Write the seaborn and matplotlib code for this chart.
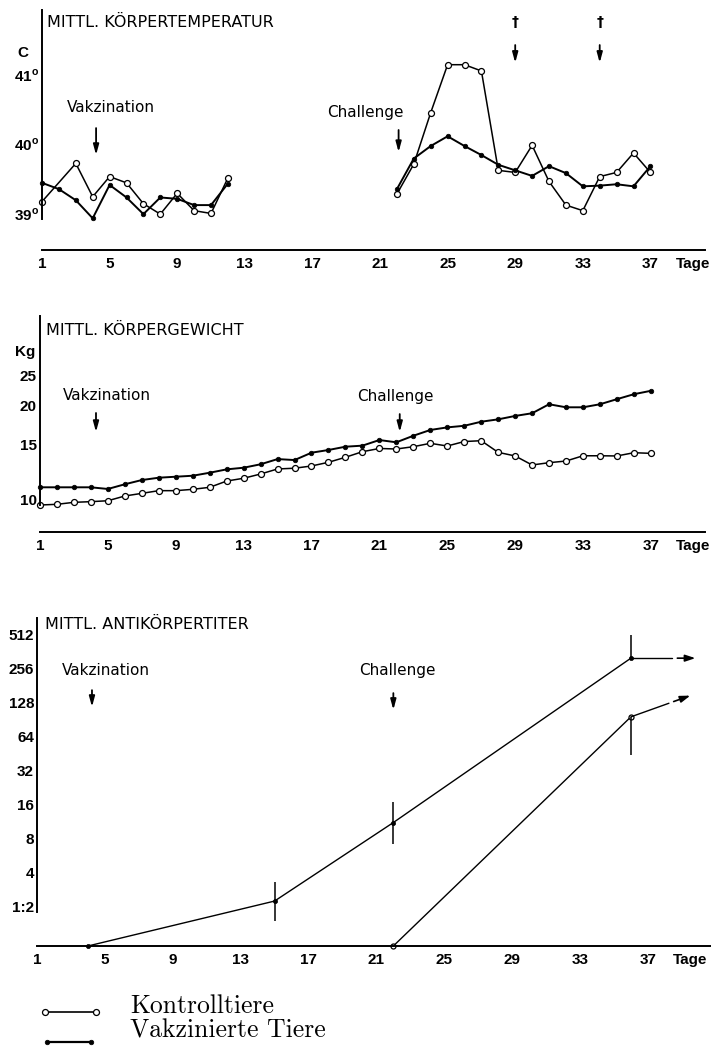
"""
Three stacked panels: mean body temperature, body weight and antibody
titre of control vs. vaccinated animals over the days of the trial.
"""

import matplotlib
matplotlib.use("Agg")
import matplotlib.pyplot as plt
import seaborn as sns
from matplotlib.lines import Line2D
from matplotlib.ticker import NullLocator
from matplotlib.transforms import ScaledTranslation

W, H = 711, 1046

# ---------------------------------------------------------------- data
DAY_TICKS = [1, 5, 9, 13, 17, 21, 25, 29, 33, 37]

# body temperature (°C) - vaccination phase
temp_ctrl_days_1 = [1, 3, 4, 5, 6, 7, 8, 9, 10, 11, 12]
temp_ctrl_1 = [39.25, 39.80, 39.32, 39.61, 39.52, 39.22, 39.07, 39.37, 39.12, 39.08, 39.59]
temp_vacc_days_1 = [1, 2, 3, 4, 5, 6, 7, 8, 9, 10, 11, 12]
temp_vacc_1 = [39.52, 39.43, 39.27, 39.01, 39.49, 39.31, 39.07, 39.31, 39.29, 39.20, 39.20, 39.51]

# body temperature (°C) - challenge phase
temp_days_2 = [22, 23, 24, 25, 26, 27, 28, 29, 30, 31, 32, 33, 34, 35, 36, 37]
temp_ctrl_2 = [39.36, 39.79, 40.53, 41.22, 41.22, 41.13, 39.70, 39.67,
               40.06, 39.54, 39.20, 39.12, 39.61, 39.67, 39.95, 39.67]
temp_vacc_2 = [39.43, 39.87, 40.05, 40.19, 40.05, 39.92, 39.78, 39.70,
               39.62, 39.76, 39.66, 39.47, 39.48, 39.50, 39.47, 39.76]
death_days = [29, 34]

# body weight (kg), days 1..37
weight_days = list(range(1, 38))
weight_ctrl = [10.0, 10.05, 10.2, 10.25, 10.32, 10.69, 10.9, 11.12, 11.12, 11.23,
               11.4, 11.94, 12.19, 12.58, 13.06, 13.13, 13.35, 13.72, 14.24, 14.84,
               15.2, 15.14, 15.40, 15.79, 15.48, 16.0, 16.1, 14.77, 14.38, 13.45,
               13.68, 13.85, 14.4, 14.4, 14.38, 14.73, 14.66]
weight_vacc = [11.40, 11.40, 11.40, 11.40, 11.26, 11.66, 12.03, 12.24, 12.33, 12.42,
               12.70, 13.02, 13.18, 13.52, 14.05, 13.95, 14.73, 15.03, 15.40, 15.52,
               16.18, 15.91, 16.70, 17.43, 17.77, 17.98, 18.53, 18.86, 19.34, 19.73,
               21.09, 20.62, 20.62, 21.09, 21.9, 22.72, 23.3]

# antibody titre (reciprocal), with range bars
titer_vacc_days = [4, 15, 22, 36]
titer_vacc = [1, 2.5, 12.4, 354]
titer_vacc_lo = [float("nan"), 1.67, 7.97, 354]
titer_vacc_hi = [float("nan"), 3.68, 18.7, 568]
titer_ctrl_days = [22, 36]
titer_ctrl = [1, 107]
titer_ctrl_lo = [float("nan"), 49.6]
titer_ctrl_hi = [float("nan"), 107]
# "still rising" arrows after the last measurement (day, titre)
titer_vacc_trend = (39.8, 354)
titer_ctrl_trend = (39.5, 165)

VACC_LABEL = "Vakzination"
CHALL_LABEL = "Challenge"

# ---------------------------------------------------------------- style
sns.set_style("white")
plt.rcParams["font.family"] = ["Liberation Sans", "DejaVu Sans"]
plt.rcParams["mathtext.fontset"] = "custom"
plt.rcParams["mathtext.rm"] = "Liberation Sans:bold"
plt.rcParams["text.color"] = "black"
plt.rcParams["xtick.color"] = "black"
plt.rcParams["ytick.color"] = "black"

CTRL_KW = dict(color="black", lw=1.1, marker="o", markersize=4.3,
               markerfacecolor="white", markeredgecolor="black",
               markeredgewidth=0.9, clip_on=False)
VACC_KW = dict(color="black", lw=1.4, marker="o", markersize=3.3,
               markerfacecolor="black", markeredgecolor="black",
               markeredgewidth=0.5, clip_on=False)
LABEL_FONT = dict(family="DejaVu Sans", fontsize=11, color="black")

fig = plt.figure(figsize=(W / 100, H / 100), dpi=100)


def add_axes_px(left, top, right, bottom):
    return fig.add_axes([left / W, 1 - bottom / H, (right - left) / W, (bottom - top) / H])


def style_axis(ax, xmax, ybottom, yticks, ylabels):
    sns.despine(ax=ax)
    for side in ("left", "bottom"):
        ax.spines[side].set_linewidth(1.4)
        ax.spines[side].set_color("black")
    ax.spines["left"].set_bounds(ybottom, ax.get_ylim()[1])
    ax.set_xlim(1, xmax)
    ax.set_xticks(DAY_TICKS, [str(d) for d in DAY_TICKS], fontweight="bold",
                  fontsize=11, color="black")
    ax.set_yticks(yticks)
    ax.yaxis.set_minor_locator(NullLocator())
    ax.tick_params(axis="x", direction="in", length=9, width=1.3, pad=5, colors="black")
    ax.tick_params(axis="y", direction="in", length=7, width=1.3, labelleft=False, colors="black")
    ax.set_xlabel("")
    ax.set_ylabel("")
    ytr = ax.get_yaxis_transform() + ScaledTranslation(-3 / 100, 4 / 100, fig.dpi_scale_trans)
    for v, lab in zip(yticks, ylabels):
        ax.text(0, v, lab, transform=ytr, ha="right", va="center",
                fontsize=11, fontweight="bold", color="black")
    xtr = ax.get_xaxis_transform() + ScaledTranslation(0, -5 / 72, fig.dpi_scale_trans)
    ax.text(39.5, 0, "Tage", transform=xtr, ha="center", va="top",
            fontsize=11, fontweight="bold", color="black")


def arrow(ax, x, y0, y1):
    tr = ax.get_xaxis_transform()
    ax.annotate("", xy=(x, y1), xycoords=tr, xytext=(x, y0), textcoords=tr,
                arrowprops=dict(arrowstyle="-|>,head_length=0.55,head_width=0.15",
                                color="black", lw=1.3, shrinkA=0, shrinkB=0,
                                mutation_scale=11))


def event(ax, label, text_day, text_y, arrow_day, y0, y1):
    ax.text(text_day, text_y, label, transform=ax.get_xaxis_transform(),
            ha="left", va="center", **LABEL_FONT)
    arrow(ax, arrow_day, y0, y1)


# ---------------------------------------------------------------- temperature
ax1 = add_axes_px(42, 10, 705, 250)
ax1.set_ylim(38.554, 42.007)
sns.lineplot(x=temp_ctrl_days_1, y=temp_ctrl_1, ax=ax1, sort=False, **CTRL_KW)
sns.lineplot(x=temp_vacc_days_1, y=temp_vacc_1, ax=ax1, sort=False, **VACC_KW)
sns.lineplot(x=temp_days_2, y=temp_ctrl_2, ax=ax1, sort=False, **CTRL_KW)
sns.lineplot(x=temp_days_2, y=temp_vacc_2, ax=ax1, sort=False, **VACC_KW)
style_axis(ax1, 40.23, 39, [39, 40, 41],
           [r"39$^{\mathrm{o}}$", r"40$^{\mathrm{o}}$", r"41$^{\mathrm{o}}$"])
ax1.text(1.3, 0.946, "MITTL. KÖRPERTEMPERATUR", transform=ax1.get_xaxis_transform(),
         ha="left", va="center", **{**LABEL_FONT, "fontsize": 11.5})
ax1.text(-0.029, 0.82, "C", transform=ax1.transAxes, ha="center", va="center",
         fontsize=11, fontweight="bold")
event(ax1, VACC_LABEL, 2.48, 0.592, 4.2, 0.508, 0.396)
event(ax1, CHALL_LABEL, 17.86, 0.575, 22.1, 0.50, 0.408)
for d in death_days:
    ax1.text(d, 0.95, "†", transform=ax1.get_xaxis_transform(), ha="center",
             va="center", fontsize=10, fontweight="bold", family="DejaVu Sans")
    arrow(ax1, d, 0.854, 0.78)

# ---------------------------------------------------------------- weight
ax2 = add_axes_px(40, 316, 705, 532)
ax2.set_yscale("log")
ax2.set_ylim(8.187, 40.55)
sns.lineplot(x=weight_days, y=weight_ctrl, ax=ax2, sort=False, **CTRL_KW)
sns.lineplot(x=weight_days, y=weight_vacc, ax=ax2, sort=False, **VACC_KW)
style_axis(ax2, 40.19, 10, [10, 15, 20, 25], ["10", "15", "20", "25"])
ax2.text(1.35, 0.935, "MITTL. KÖRPERGEWICHT", transform=ax2.get_xaxis_transform(),
         ha="left", va="center", **{**LABEL_FONT, "fontsize": 11.5})
ax2.text(-0.023, 0.833, "Kg", transform=ax2.transAxes, ha="center", va="center",
         fontsize=11, fontweight="bold")
event(ax2, VACC_LABEL, 2.36, 0.634, 4.3, 0.551, 0.463)
event(ax2, CHALL_LABEL, 19.7, 0.625, 22.2, 0.546, 0.463)

# ---------------------------------------------------------------- titre
ax3 = add_axes_px(37, 618, 711, 946)
ax3.set_yscale("log", base=2)
ax3.set_ylim(1.0, 803)
titer_ticks = [2, 4, 8, 16, 32, 64, 128, 256, 512]
titer_labels = ["1:2"] + [str(t) for t in titer_ticks[1:]]
sns.lineplot(x=titer_ctrl_days, y=titer_ctrl, ax=ax3, sort=False,
             **{**CTRL_KW, "lw": 1.0, "markersize": 3.6})
sns.lineplot(x=titer_vacc_days, y=titer_vacc, ax=ax3, sort=False,
             **{**VACC_KW, "lw": 1.0, "markersize": 3.0})
ax3.vlines(titer_vacc_days, titer_vacc_lo, titer_vacc_hi, color="black", lw=1.1)
ax3.vlines(titer_ctrl_days, titer_ctrl_lo, titer_ctrl_hi, color="black", lw=1.1)

for days, vals, trend in ((titer_vacc_days, titer_vacc, titer_vacc_trend),
                          (titer_ctrl_days, titer_ctrl, titer_ctrl_trend)):
    x0, y0 = days[-1], vals[-1]
    x1, y1 = trend

    def at(t):
        return x0 + (x1 - x0) * t, y0 * (y1 / y0) ** t

    xa, ya = at(0.64)
    ax3.plot([x0, xa], [y0, ya], color="black", lw=1.0)
    xb, yb = at(0.72)
    ax3.annotate("", xy=(x1, y1), xytext=(xb, yb),
                 arrowprops=dict(arrowstyle="-|>,head_length=0.6,head_width=0.2",
                                 color="black", lw=1.2, shrinkA=0, shrinkB=0,
                                 mutation_scale=10))

style_axis(ax3, 40.72, 2, titer_ticks, titer_labels)
ax3.text(1.47, 0.979, "MITTL. ANTIKÖRPERTITER", transform=ax3.get_xaxis_transform(),
         ha="left", va="center", **{**LABEL_FONT, "fontsize": 11.5})
event(ax3, VACC_LABEL, 2.47, 0.841, 4.24, 0.78, 0.729)
event(ax3, CHALL_LABEL, 20.0, 0.841, 22.0, 0.771, 0.72)

# ---------------------------------------------------------------- legend
SERIF = dict(family=["cmr10", "DejaVu Serif"], fontsize=18.5, color="black")
fig.add_artist(Line2D([45 / W, 96 / W], [1 - 1012 / H] * 2, **{**CTRL_KW, "lw": 1.2}))
fig.add_artist(Line2D([47 / W, 91 / W], [1 - 1042 / H] * 2, **{**VACC_KW, "lw": 1.6}))
fig.text(130 / W, 1 - 1013 / H, "Kontrolltiere", ha="left", va="baseline", **SERIF)
fig.text(130 / W, 1 - 1037 / H, "Vakzinierte Tiere", ha="left", va="baseline", **SERIF)

fig.savefig("out.png", dpi=100)
